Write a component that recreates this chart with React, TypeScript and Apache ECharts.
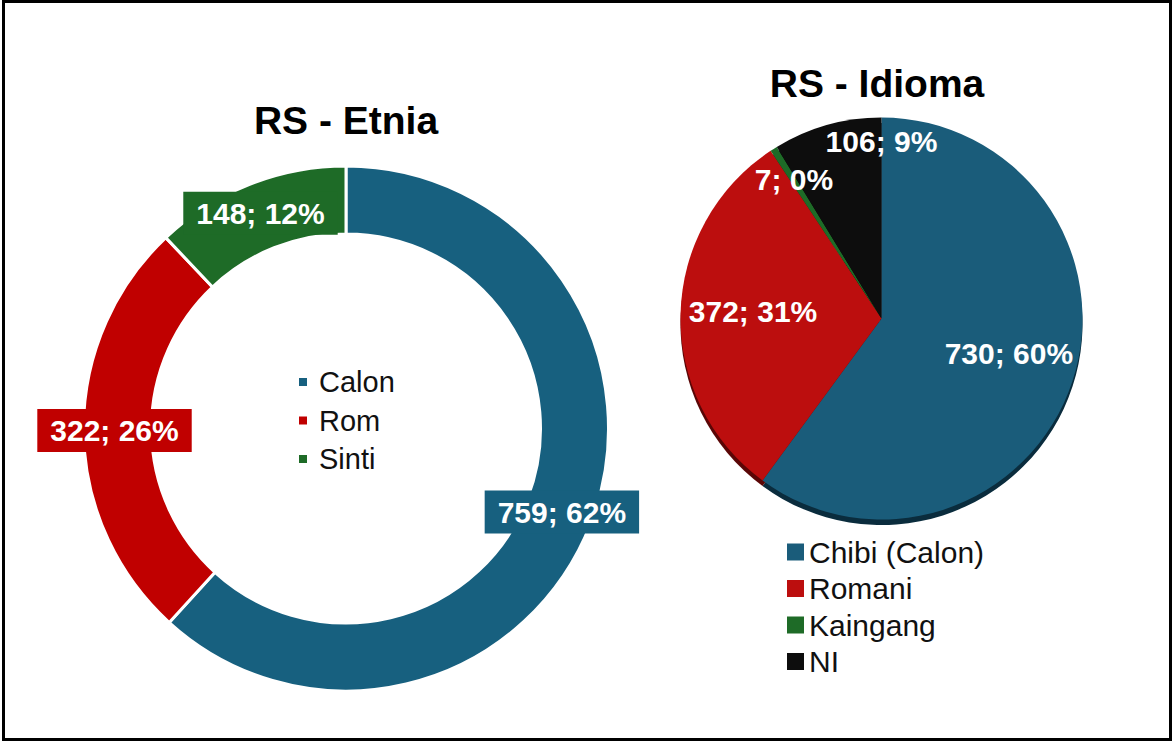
import React, { useEffect, useRef } from "react";
import * as echarts from "echarts";

const etniaTitle = "RS - Etnia";
const etniaNames = ["Calon", "Rom", "Sinti"];
const etniaValues = [759, 322, 148];

const idiomaTitle = "RS - Idioma";
const idiomaNames = ["Chibi (Calon)", "Romani", "Kaingang", "NI"];
const idiomaValues = [730, 372, 7, 106];

const etniaColors = ["#17607F", "#C00000", "#1E6B27"];
const idiomaColors = ["#1A5C7A", "#BC0E0E", "#1E6B27", "#0D0D0D"];
const idiomaRimColors = ["#0A2C3D", "#5A0606", "#0F3513", "#000000"];
const idiomaLabelShift = [
  [29, 3],
  [-25, -4],
  [-32, -52],
  [28, -77],
];

const FONT = "'Liberation Sans', Arial, sans-serif";

export default function App() {
  const ref = useRef<HTMLDivElement>(null);
  useEffect(() => {
    document.body.style.margin = "0";
    const chart = echarts.init(ref.current!, null, { renderer: "svg" });
    const option: any = {
      animation: false,
      backgroundColor: "#ffffff",
      textStyle: { fontFamily: FONT },
      graphic: [
        {
          type: "rect",
          shape: { x: 3.5, y: 1.5, width: 1167, height: 738 },
          style: { fill: "none", stroke: "#000", lineWidth: 3 },
          silent: true,
        },
        {
          type: "text",
          x: 346,
          y: 120,
          style: {
            text: etniaTitle,
            font: `bold 39px ${FONT}`,
            fill: "#000",
            textAlign: "center",
            textVerticalAlign: "middle",
          },
        },
        {
          type: "text",
          x: 877,
          y: 83,
          style: {
            text: idiomaTitle,
            font: `bold 39px ${FONT}`,
            fill: "#000",
            textAlign: "center",
            textVerticalAlign: "middle",
          },
        },
      ],
      legend: [
        {
          orient: "vertical",
          left: 292,
          top: 362,
          itemWidth: 10,
          itemHeight: 10,
          itemGap: 8.5,
          icon: "rect",
          selectedMode: false,
          data: etniaNames,
          textStyle: {
            fontFamily: FONT,
            fontSize: 29,
            color: "#111",
            lineHeight: 30,
            padding: [0, 0, 0, 6],
          },
        },
        {
          orient: "vertical",
          left: 782,
          top: 532,
          itemWidth: 17,
          itemHeight: 17,
          itemGap: 6.5,
          icon: "rect",
          selectedMode: false,
          data: idiomaNames,
          textStyle: {
            fontFamily: FONT,
            fontSize: 30,
            color: "#111",
            lineHeight: 30,
          },
        },
      ],
      series: [
        {
          type: "pie",
          name: "Etnia",
          center: [346, 428.5],
          radius: [194.5, 262.5],
          startAngle: 90,
          clockwise: true,
          percentPrecision: 0,
          silent: true,
          itemStyle: { borderColor: "#fff", borderWidth: 3 },
          label: {
            show: true,
            position: "inside",
            formatter: "{c}; {d}%",
            color: "#fff",
            fontFamily: FONT,
            fontWeight: "bold",
            fontSize: 30,
            lineHeight: 31,
            padding: [6, 13, 6, 13],
          },
          labelLine: { show: false },
          emphasis: { disabled: true },
          data: etniaValues.map((v, i) => ({
            name: etniaNames[i],
            value: v,
            itemStyle: { color: etniaColors[i] },
            label: { backgroundColor: etniaColors[i] },
          })),
        },
        {
          type: "pie",
          name: "Idioma",
          z: 3,
          center: [881.5, 318.5],
          radius: [0, 201],
          startAngle: 90,
          clockwise: true,
          percentPrecision: 0,
          silent: true,
          label: {
            show: true,
            position: "inside",
            formatter: "{c}; {d}%",
            color: "#fff",
            fontFamily: FONT,
            fontWeight: "bold",
            fontSize: 30,
          },
          labelLayout: (p: any) => ({
            dx: idiomaLabelShift[p.dataIndex][0],
            dy: idiomaLabelShift[p.dataIndex][1],
          }),
          labelLine: { show: false },
          emphasis: { disabled: true },
          data: idiomaValues.map((v, i) => ({
            name: idiomaNames[i],
            value: v,
            itemStyle: { color: idiomaColors[i] },
          })),
        },
        {
          type: "pie",
          name: "IdiomaRim",
          z: 1,
          center: [881.5, 324],
          radius: [0, 201],
          startAngle: 90,
          clockwise: true,
          silent: true,
          label: { show: false },
          labelLine: { show: false },
          emphasis: { disabled: true },
          data: idiomaValues.map((v, i) => ({
            name: idiomaNames[i],
            value: v,
            itemStyle: { color: idiomaRimColors[i] },
          })),
        },
      ],
    };
    chart.setOption(option);
    return () => chart.dispose();
  }, []);
  return (
    <div
      ref={ref}
      style={{ position: "absolute", left: 0, top: 0, width: 1174, height: 743 }}
    />
  );
}
